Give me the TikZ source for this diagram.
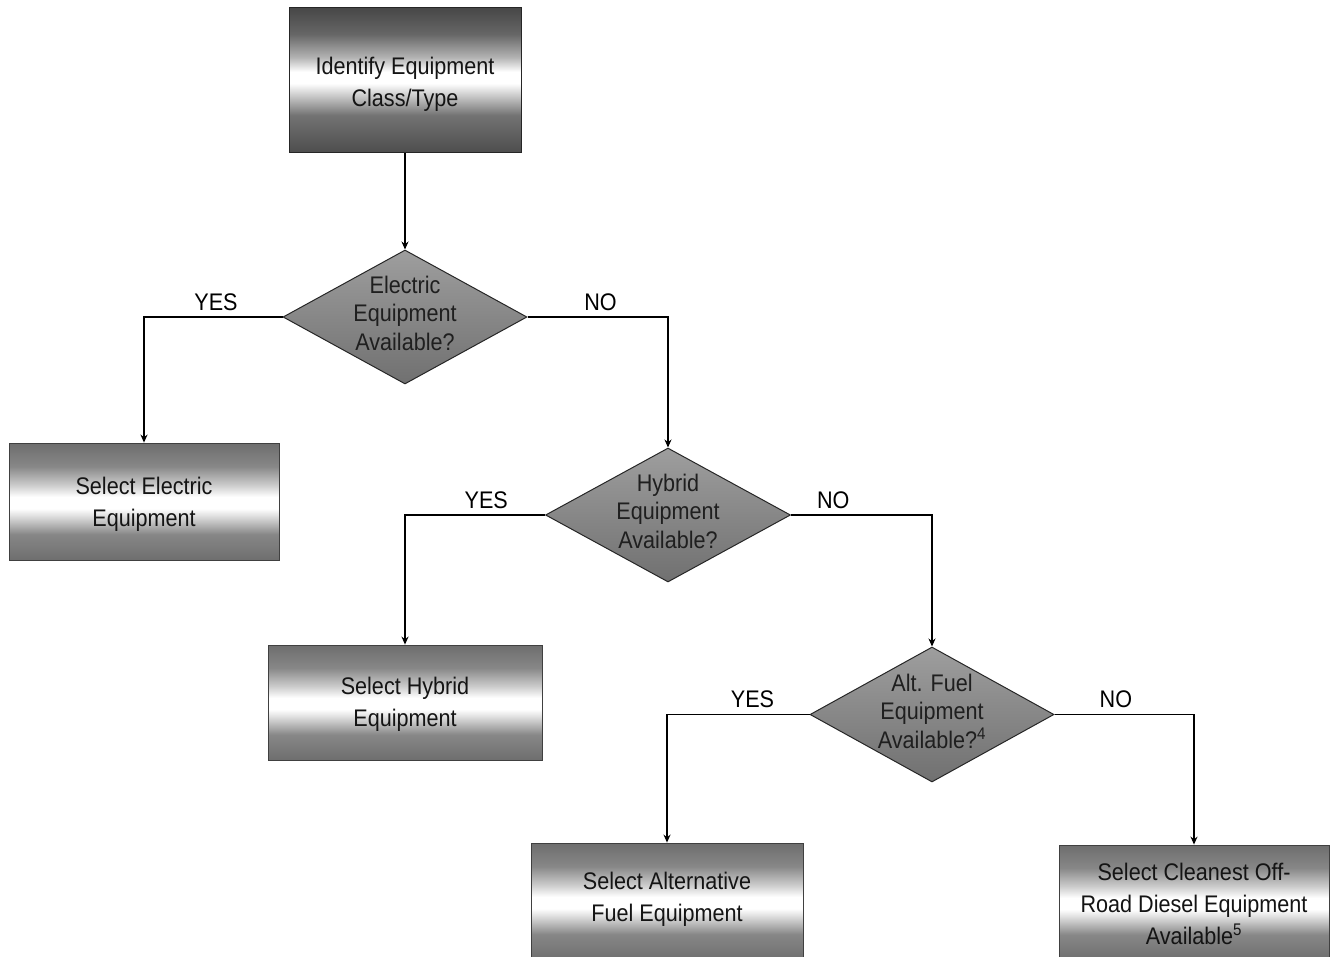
\documentclass[tikz,border=0pt]{standalone}
\usepackage{fontspec}
\newfontfamily\cond[FakeStretch=0.9]{Liberation Sans}
\usetikzlibrary{shapes.geometric,arrows.meta}
\pgfdeclareverticalshading{boxdark}{100bp}{color(0bp)=(black!70); color(25bp)=(black!70); color(38bp)=(black!55); color(46bp)=(black!15); color(49bp)=(white); color(53bp)=(white); color(58bp)=(black!30); color(66bp)=(black!60); color(75bp)=(black!72); color(100bp)=(black!72)}
\pgfdeclareverticalshading{boxlight}{100bp}{color(0bp)=(black!57); color(25bp)=(black!57); color(36bp)=(black!47); color(44bp)=(black!12); color(47bp)=(white); color(52bp)=(white); color(57bp)=(black!20); color(65bp)=(black!47); color(75bp)=(black!57); color(100bp)=(black!57)}
\tikzset{
  x=1pt, y=-1pt,
  txt/.style={font=\cond\fontsize{24}{32}\selectfont, text=black!92, align=center, inner sep=0pt},
  dtxt/.style={font=\cond\fontsize{24}{28.5}\selectfont, text=black!88, align=center, inner sep=0pt},
  topbox/.style={draw=black!85, line width=1pt, shading=boxdark},
  selbox/.style={draw=black!75, line width=0.8pt, shading=boxlight},
  dia/.style={diamond, draw=black!85, line width=1pt, inner sep=0pt, top color=black!38, bottom color=black!56},
  arr/.style={draw=black, line width=1.4pt, -{Stealth[length=8pt,width=7pt]}},
  lbl/.style={font=\cond\fontsize{24}{28}\selectfont, text=black, inner sep=1pt, above, yshift=5pt}
}
\begin{document}
\begin{tikzpicture}
\useasboundingbox (0,0) rectangle (1330,957);
% boxes
\node[topbox, minimum width=232pt, minimum height=145pt] (b1) at (405,80.5) {};
\node[txt] (b1t) at (405,84) {Identify Equipment\\Class/Type};
\node[selbox, minimum width=270pt, minimum height=117pt] (b2) at (144,501.5) {};
\node[txt] (b2t) at (144,504.5) {Select Electric\\Equipment};
\node[selbox, minimum width=274pt, minimum height=115pt] (b3) at (405,702.5) {};
\node[txt] (b3t) at (405,704.5) {Select Hybrid\\Equipment};
\node[selbox, minimum width=272pt, minimum height=117pt] (b4) at (667,901.5) {};
\node[txt] (b4t) at (667,899.5) {Select Alternative\\Fuel Equipment};
\node[selbox, minimum width=270pt, minimum height=115pt] (b5) at (1194,902.5) {};
\node[txt] (b5t) at (1194,904) {Select Cleanest Off-\\Road Diesel Equipment\\Available\textsuperscript{5}};
% diamonds
\node[dia, minimum width=244pt, minimum height=134pt] (d1) at (405,317) {};
\node[dtxt] (d1t) at (405,313) {Electric\\Equipment\\Available?};
\node[dia, minimum width=245pt, minimum height=134pt] (d2) at (668,515) {};
\node[dtxt] (d2t) at (668,511) {Hybrid\\Equipment\\Available?};
\node[dia, minimum width=244pt, minimum height=135pt] (d3) at (932,714.5) {};
\node[dtxt] (d3t) at (932,711) {Alt. Fuel\\Equipment\\Available?\textsuperscript{4}};
% connectors
\draw[arr] (b1.south) -- (d1.north);
\draw[arr] (d1.west) -| node[lbl, pos=0.24] (y1) {YES} (b2.north);
\draw[arr] (d1.east) -| node[lbl, pos=0.26] (n1) {NO} (d2.north);
\draw[arr] (d2.west) -| node[lbl, pos=0.21] (y2) {YES} (b3.north);
\draw[arr] (d2.east) -| node[lbl, pos=0.15] (n2) {NO} (d3.north);
\draw[arr] (d3.west) -| node[lbl, pos=0.2] (y3) {YES} (b4.north);
\draw[arr] (d3.east) -| node[lbl, pos=0.22] (n3) {NO} (b5.north);
\end{tikzpicture}
\end{document}
